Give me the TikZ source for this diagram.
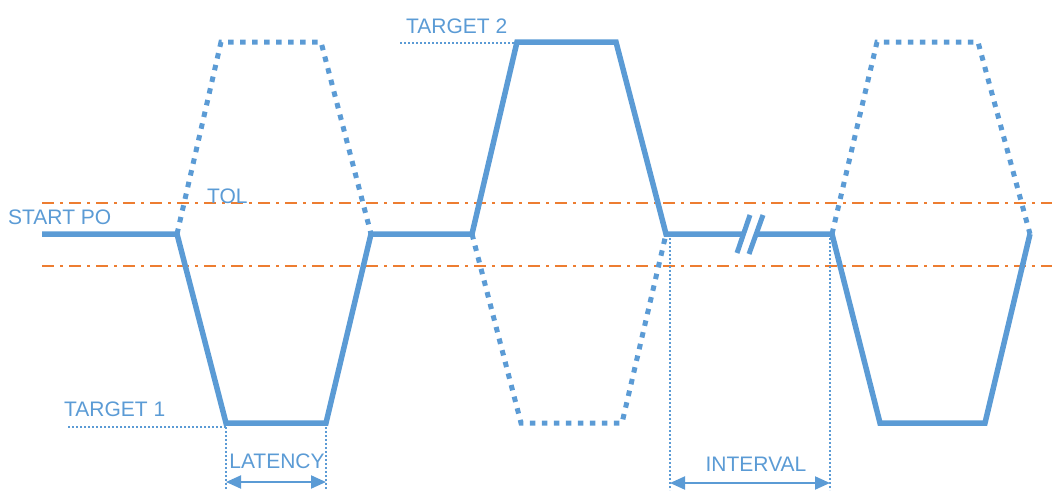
\documentclass[tikz,border=0pt]{standalone}
\usepackage{fontspec}
\setmainfont{Liberation Sans}
\usetikzlibrary{arrows.meta}
\definecolor{wblue}{HTML}{5B9BD5}
\definecolor{worange}{HTML}{ED7D31}
\tikzset{
  sig/.style={draw=wblue, line width=5.5pt, line join=miter},
  sigdot/.style={draw=wblue, line width=5pt, dash pattern=on 5.5pt off 6.5pt},
  tol/.style={draw=worange, line width=2.6pt, dash pattern=on 12pt off 6pt on 3pt off 6pt},
  guide/.style={draw=wblue, line width=2pt, dash pattern=on 2pt off 2pt},
  meas/.style={draw=wblue, line width=2pt, {Triangle[length=15pt,width=13pt]}-{Triangle[length=15pt,width=13pt]}},
  lbl/.style={text=wblue, font=\fontsize{21}{25}\selectfont, inner sep=0pt, anchor=base west},
}
\begin{document}
\begin{tikzpicture}[x=1pt,y=-1pt]
\useasboundingbox (0,0) rectangle (1057,490);
% waveform points
\coordinate (s0) at (42,234);
\coordinate (p1) at (177,234);
\coordinate (d1a) at (226,423);
\coordinate (d1b) at (326,423);
\coordinate (u1a) at (221,42);
\coordinate (u1b) at (321,42);
\coordinate (p2) at (371,234);
\coordinate (p3) at (472,234);
\coordinate (u2a) at (517,42);
\coordinate (u2b) at (616,42);
\coordinate (d2a) at (521,423);
\coordinate (d2b) at (622,423);
\coordinate (p4) at (666,234);
\coordinate (b1) at (742,234);
\coordinate (b2) at (758,234);
\coordinate (p5) at (832,234);
\coordinate (d3a) at (880,423);
\coordinate (d3b) at (985,423);
\coordinate (u3a) at (877,42);
\coordinate (u3b) at (978,42);
\coordinate (p6) at (1030,234);
% tolerance lines
\coordinate (t1l) at (42,203); \coordinate (t1r) at (1052,203);
\coordinate (t2l) at (42,266); \coordinate (t2r) at (1052,266);
\draw[tol] (t1l) -- (t1r);
\draw[tol] (t2l) -- (t2r);
% guides
\coordinate (g1) at (68,427);
\coordinate (g2) at (400,43);
\coordinate (v1) at (226,490); \coordinate (v2) at (326,490);
\coordinate (v3t) at (670,234); \coordinate (v3) at (670,490);
\coordinate (v4t) at (830,234); \coordinate (v4) at (830,490);
\draw[guide] (g1) -- (g1 -| d1a);
\draw[guide] (g2) -- (g2 -| u2a);
\draw[guide] (d1a) -- (v1);
\draw[guide] (d1b) -- (v2);
\draw[guide] (v3t) -- (v3);
\draw[guide] (v4t) -- (v4);
% dotted alternatives
\draw[sigdot] (p1) -- (u1a) -- (u1b) -- (p2);
\draw[sigdot] (p3) -- (d2a) -- (d2b) -- (p4);
\draw[sigdot] (p5) -- (u3a) -- (u3b) -- (p6);
% solid signal
\draw[sig] (s0) -- (p1) -- (d1a) -- (d1b) -- (p2) -- (p3) -- (u2a) -- (u2b) -- (p4) -- (b1);
\draw[sig] (b2) -- (p5) -- (d3a) -- (d3b) -- (p6);
% break marks
\coordinate (k1a) at (737,253); \coordinate (k1b) at (750,215);
\coordinate (k2a) at (749,254); \coordinate (k2b) at (763,215);
\draw[draw=wblue, line width=5pt] (k1a) -- (k1b);
\draw[draw=wblue, line width=5pt] (k2a) -- (k2b);
% measurement arrows
\coordinate (la) at (226,482); \coordinate (lb) at (326,482);
\coordinate (ia) at (670,483); \coordinate (ib) at (830,483);
\draw[meas] (la) -- (lb);
\draw[meas] (ia) -- (ib);
% labels
\node[lbl] (start) at (8,224) {START PO};
\node[lbl] (tol) at (207,203) {TOL};
\node[lbl] (tg1) at (64,416) {TARGET 1};
\node[lbl] (tg2) at (406,33) {TARGET 2};
\node[lbl, anchor=base] (lat) at (277,468) {LATENCY};
\node[lbl, anchor=base] (int) at (756,471) {INTERVAL};
\end{tikzpicture}
\end{document}
